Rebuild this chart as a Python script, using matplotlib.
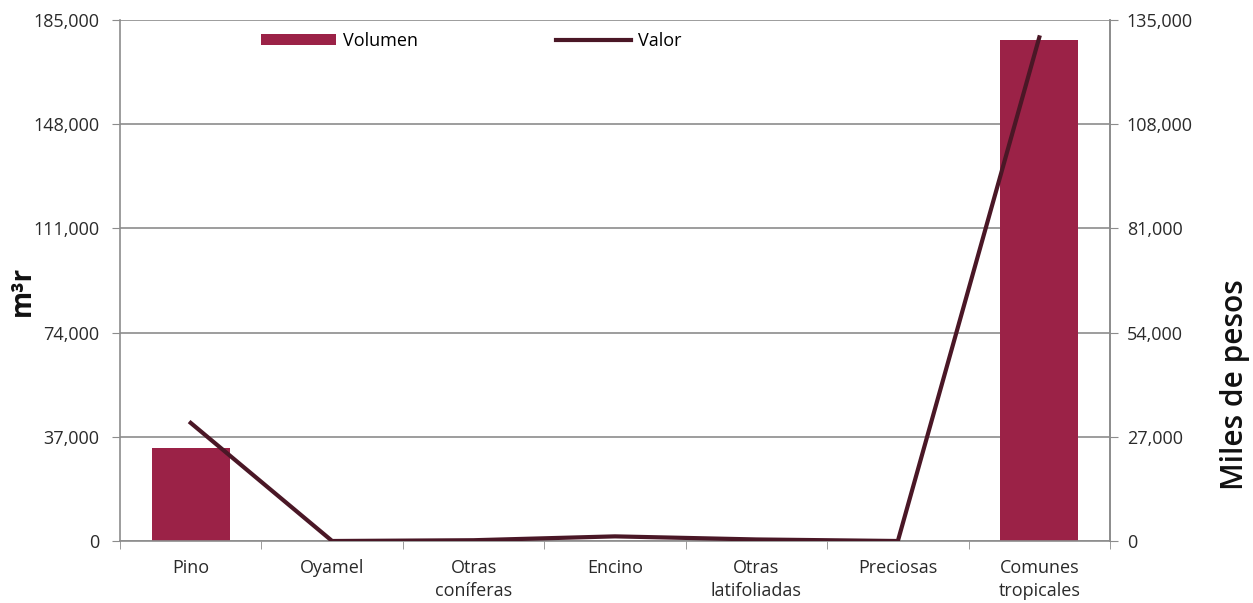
import matplotlib
matplotlib.use("Agg")
import matplotlib.pyplot as plt
import numpy as np

categories = ["Pino", "Oyamel", "Otras\nconíferas", "Encino", "Otras\nlatifoliadas", "Preciosas", "Comunes\ntropicales"]
volumen = [33000, 0, 0, 0, 0, 0, 178000]
valor = [30600, 0, 200, 1200, 400, 0, 130500]
left_ticks = [0, 37000, 74000, 111000, 148000, 185000]
right_ticks = [0, 27000, 54000, 81000, 108000, 135000]

plt.rcParams['font.family'] = ['Open Sans', 'DejaVu Sans']

bar_color = "#9B2247"
line_color = "#4A1726"
grid_color = "#8C8C8C"
text_color = "#2A2A2A"

W, H = 1253, 603
fig = plt.figure(figsize=(W / 100, H / 100), dpi=100)
ax = fig.add_axes([120 / W, 62 / H, 990 / W, 521 / H])
x = np.arange(len(categories))
bars = ax.bar(x, volumen, width=0.55, color=bar_color, label="Volumen", zorder=2)
ax.set_xlim(-0.5, len(categories) - 0.5)
ax.set_ylim(0, 185000)
ax.set_yticks(left_ticks)
ax.set_yticklabels([f"{v:,}" for v in left_ticks], fontsize=13, color=text_color)
ax.yaxis.grid(True, color=grid_color, linewidth=1.2, zorder=0)
ax.set_axisbelow(True)
ax.set_xticks(x)
ax.set_xticklabels(categories, fontsize=13, color=text_color, linespacing=1.35)
ax.set_xticks(np.arange(len(categories) + 1) - 0.5, minor=True)
ax.tick_params(axis='x', which='major', length=0, pad=13)
ax.tick_params(axis='x', which='minor', length=6, color=grid_color)
ax.tick_params(axis='y', length=6, color=grid_color, pad=9)
ax.spines['top'].set_visible(False)
for s in ['left', 'bottom', 'right']:
    ax.spines[s].set_color(grid_color)
    ax.spines[s].set_linewidth(1.2)

ax2 = ax.twinx()
line, = ax2.plot(x, valor, color=line_color, linewidth=3, label="Valor", zorder=3)
ax2.set_ylim(0, 135000)
ax2.set_yticks(right_ticks)
ax2.set_yticklabels([f"{v:,}" for v in right_ticks], fontsize=13, color=text_color)
ax2.tick_params(axis='y', length=6, color=grid_color, pad=6)
for s in ['top', 'left', 'bottom']:
    ax2.spines[s].set_visible(False)
ax2.spines['right'].set_color(grid_color)
ax2.spines['right'].set_linewidth(1.2)

fig.text(22 / W, 1 - 291 / H, "m³r", rotation=90, ha='center', va='center',
         fontsize=20, fontweight='bold', color="#111111")
fig.text(1235 / W, 1 - 385 / H, "Miles de pesos", rotation=90, ha='center', va='center',
         fontsize=21.5, fontweight='semibold', color="#111111")

fig.legend([bars, line], ["Volumen", "Valor"], ncol=2, frameon=False,
           loc='center left', bbox_to_anchor=(245 / W, 1 - 41 / H),
           fontsize=13, handlelength=4.15, handleheight=0.55, handletextpad=0.4,
           columnspacing=7.6)

fig.savefig("out.png", dpi=100)
